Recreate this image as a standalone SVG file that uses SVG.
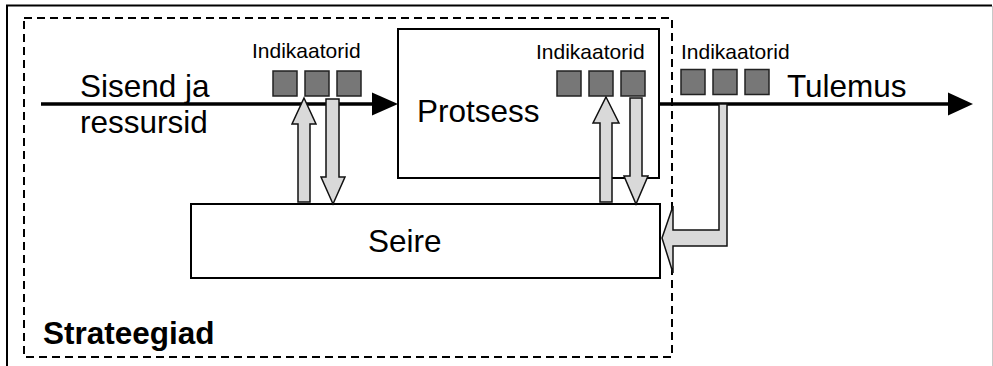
<svg xmlns="http://www.w3.org/2000/svg" width="993" height="366" viewBox="0 0 993 366">
<defs>
<style>
.big{font-family:"Liberation Sans",Arial,sans-serif;font-size:31.5px;fill:#000}
.small{font-family:"Liberation Sans",Arial,sans-serif;font-size:21px;fill:#000}
.bold{font-family:"Liberation Sans",Arial,sans-serif;font-size:31.5px;font-weight:bold;fill:#000}
.box{fill:#fff;stroke:#000;stroke-width:2}
.sq{fill:#777;stroke:#222;stroke-width:1.5}
.blk{fill:#d9d9d9;stroke:#111;stroke-width:1.5;stroke-linejoin:miter}
.flow{stroke:#000;stroke-width:3.5;fill:none}
</style>
</defs>
<rect x="0" y="0" width="993" height="366" fill="#fff"/>
<g id="frame">
<path d="M7,367 V5.5 H992" fill="none" stroke="#000" stroke-width="2"/>
<line x1="992.5" y1="6" x2="992.5" y2="366" stroke="#c8c8c8" stroke-width="1"/>
</g>
<g id="strateegiad">
<rect x="24" y="18" width="648" height="339" fill="none" stroke="#000" stroke-width="2" stroke-dasharray="8,5"/>
<text class="bold" x="43" y="344">Strateegiad</text>
</g>
<g id="protsess">
<rect class="box" x="398" y="29" width="261" height="149"/>
<text class="big" x="417" y="122">Protsess</text>
</g>
<g id="seire">
<rect class="box" x="191" y="204" width="469" height="74"/>
<text class="big" x="368" y="252">Seire</text>
</g>
<g id="labels">
<text class="big" x="80" y="97">Sisend ja</text>
<text class="big" x="80" y="133">ressursid</text>
<text class="big" x="787" y="97">Tulemus</text>
</g>
<g id="connectors">
<line class="flow" x1="41" y1="104" x2="374" y2="104"/>
<polygon points="372,92.5 398,104 372,115.5" fill="#000"/>
<line class="flow" x1="659" y1="104" x2="950" y2="104"/>
<polygon points="948,92.5 973,104 948,115.5" fill="#000"/>
<polygon class="blk" points="304,98 316,124 310,124 310,202 298,202 298,124 292,124"/>
<polygon class="blk" points="326,99 339,99 339,177 345,177 333,204 321,177 326,177"/>
<polygon class="blk" points="606,97 619,123 612,123 612,202 600,202 600,123 593,123"/>
<polygon class="blk" points="630,98 642,98 642,176 648,176 636,204 624,176 630,176"/>
<polygon class="blk" points="719,104 727,104 727,246 673,246 673,273 662,238 673,206 673,230 719,230"/>
</g>
<g id="ind1">
<text class="small" x="252" y="58">Indikaatorid</text>
<rect class="sq" x="273" y="71" width="24" height="25"/>
<rect class="sq" x="305" y="71" width="24" height="25"/>
<rect class="sq" x="337" y="71" width="24" height="25"/>
</g>
<g id="ind2">
<text class="small" x="536" y="59">Indikaatorid</text>
<rect class="sq" x="557" y="71" width="24" height="25"/>
<rect class="sq" x="589" y="71" width="24" height="25"/>
<rect class="sq" x="621" y="71" width="24" height="25"/>
</g>
<g id="ind3">
<text class="small" x="681" y="59">Indikaatorid</text>
<rect class="sq" x="681" y="69.5" width="24" height="25"/>
<rect class="sq" x="713" y="69.5" width="24" height="25"/>
<rect class="sq" x="745" y="69.5" width="24" height="25"/>
</g>
</svg>
